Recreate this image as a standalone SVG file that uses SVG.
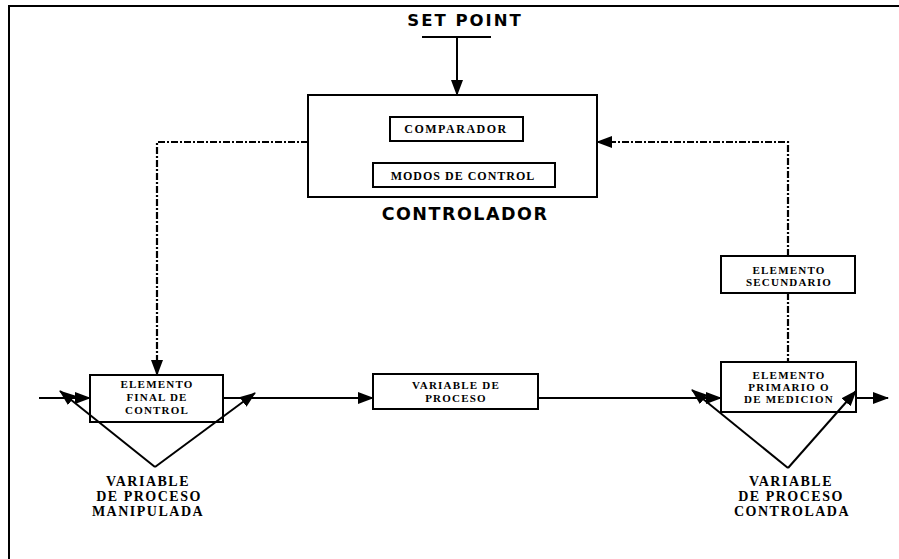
<svg xmlns="http://www.w3.org/2000/svg" width="899" height="559" viewBox="0 0 899 559">
<defs>
<style>
.ln{stroke:#000;stroke-width:2;fill:none}
.dash{stroke:#000;stroke-width:2.2;fill:none;stroke-dasharray:7 2 2 2}
.box{stroke:#000;stroke-width:2;fill:#fff}
.sans{font-family:"DejaVu Sans","Liberation Sans",Arial,sans-serif;font-weight:bold;fill:#000;text-anchor:middle}
.ser{font-family:"Liberation Serif","Times New Roman",serif;font-weight:bold;fill:#000;text-anchor:middle}
.bt{font-size:11px;letter-spacing:1.2px}
.lab{font-size:14px;letter-spacing:1.5px}
</style>
<marker id="ah" markerWidth="16" markerHeight="12" refX="15" refY="6" orient="auto" markerUnits="userSpaceOnUse">
<path d="M0,0 L16,6 L0,12 Z" fill="#000"/>
</marker>
</defs>
<rect x="0" y="0" width="899" height="559" fill="#fff"/>
<g id="frame">
<path class="ln" d="M9,559 V6 H899"/>
</g>
<g id="setpoint">
<text class="sans" x="465" y="26" font-size="16.5" letter-spacing="2">SET POINT</text>
<path class="ln" d="M422,37 H491"/>
</g>
<g id="controlador">
<rect class="box" x="308" y="95" width="289" height="102"/>
<text class="sans" x="465" y="220" font-size="17.5" letter-spacing="1.5">CONTROLADOR</text>
</g>
<g id="comparador">
<rect class="box" x="390" y="117" width="133" height="24"/>
<text class="ser" x="456" y="133" font-size="12" letter-spacing="1.5">COMPARADOR</text>
</g>
<g id="modos">
<rect class="box" x="373" y="163" width="182" height="24"/>
<text class="ser" x="463" y="180" font-size="12" letter-spacing="1">MODOS DE CONTROL</text>
</g>
<g id="final">
<rect class="box" x="90" y="375" width="133" height="47"/>
<text class="ser bt" x="157" y="388">ELEMENTO</text>
<text class="ser bt" x="157" y="401">FINAL DE</text>
<text class="ser bt" x="157" y="414">CONTROL</text>
</g>
<g id="proceso">
<rect class="box" x="373" y="374" width="165" height="35"/>
<text class="ser bt" x="456" y="389">VARIABLE DE</text>
<text class="ser bt" x="456" y="402">PROCESO</text>
</g>
<g id="primario">
<rect class="box" x="721" y="362" width="135" height="50"/>
<text class="ser bt" x="789" y="379">ELEMENTO</text>
<text class="ser bt" x="789" y="391">PRIMARIO O</text>
<text class="ser bt" x="789" y="403">DE MEDICION</text>
</g>
<g id="secundario">
<rect class="box" x="721" y="256" width="134" height="37"/>
<text class="ser bt" x="789" y="274">ELEMENTO</text>
<text class="ser bt" x="789" y="286">SECUNDARIO</text>
</g>
<g id="lab-manipulada">
<text class="ser lab" x="148" y="486">VARIABLE</text>
<text class="ser lab" x="149" y="501">DE  PROCESO</text>
<text class="ser lab" x="148" y="516">MANIPULADA</text>
</g>
<g id="lab-controlada">
<text class="ser lab" x="791" y="486">VARIABLE</text>
<text class="ser lab" x="791" y="501">DE  PROCESO</text>
<text class="ser lab" x="792" y="516">CONTROLADA</text>
</g>
<g id="connectors">
<path class="ln" d="M457,37 V95" marker-end="url(#ah)"/>
<path class="dash" d="M308,142 H157 V375" marker-end="url(#ah)"/>
<path class="dash" d="M788,256 V142 H597" marker-end="url(#ah)"/>
<path class="dash" d="M788,293 V362"/>
<path class="ln" d="M39,398 H90" marker-end="url(#ah)"/>
<path class="ln" d="M223,398 H373" marker-end="url(#ah)"/>
<path class="ln" d="M538,398 H721" marker-end="url(#ah)"/>
<path class="ln" d="M856,398 H888" marker-end="url(#ah)"/>
<path class="ln" d="M155,467 L60,391" marker-end="url(#ah)"/>
<path class="ln" d="M155,467 L255,393" marker-end="url(#ah)"/>
<path class="ln" d="M788,468 L692,390" marker-end="url(#ah)"/>
<path class="ln" d="M788,468 L856,391" marker-end="url(#ah)"/>
</g>
</svg>
